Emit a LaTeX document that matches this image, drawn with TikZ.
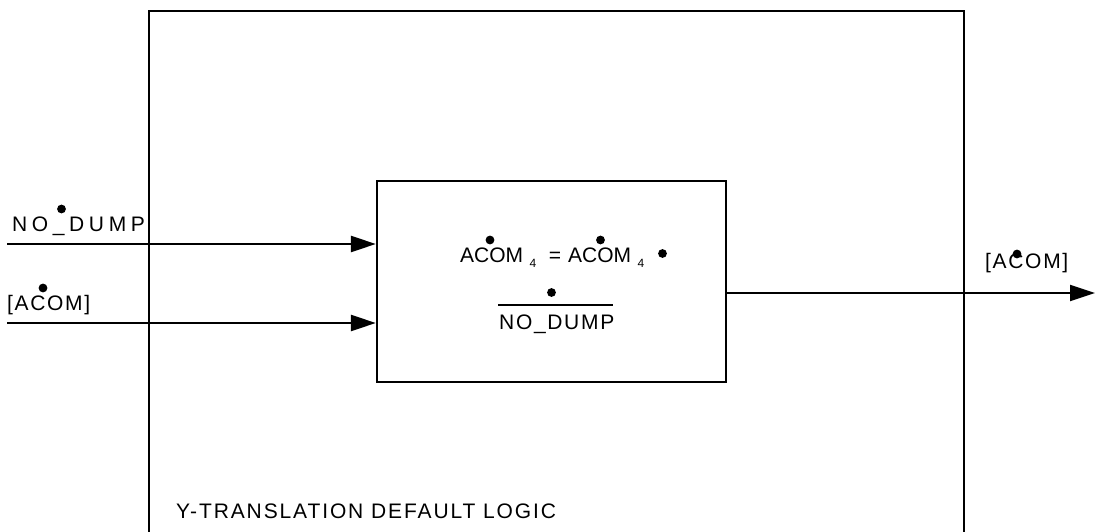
\documentclass[tikz,border=0pt]{standalone}
\usepackage{fontspec}
\setmainfont{Liberation Sans}
\newfontfamily\lsCap[LetterSpace=9]{Liberation Sans}
\newfontfamily\lsMid[LetterSpace=8]{Liberation Sans}
\newfontfamily\lsWide[LetterSpace=22]{Liberation Sans}
\usetikzlibrary{arrows.meta}
\begin{document}
\begin{tikzpicture}[x=1pt,y=-1pt,
  txt/.style={inner sep=0pt,anchor=base west},
  big/.style={font=\fontsize{21}{23}\selectfont},
  wire/.style={line width=2.3pt},
  arr/.style={wire,-{Triangle[length=25pt,width=16pt]}},
  frame/.style={line width=2.3pt},
  blob/.style={circle,fill=black,inner sep=0pt,minimum size=8.8pt}]
\useasboundingbox (0,0) rectangle (1095,532);
% outer frame (open at the bottom)
\draw[frame] (149,540) -- (149,11) -- (964,11) -- (964,540);
% inner box
\node[draw,frame,minimum width=349pt,minimum height=201pt,inner sep=0pt] (box) at (551.5,281.5) {};
% inputs and output
\coordinate (in1) at (7,244);
\coordinate (in2) at (7,323);
\coordinate (out) at (1095,293);
\draw[arr] (in1) -- (in1 -| box.west);
\draw[arr] (in2) -- (in2 -| box.west);
\draw[arr] (box.east |- out) -- (out);
% labels
\node[txt,font=\fontsize{21}{23}\selectfont\lsWide] (lno) at (12,231) {NO\_DUMP};
\node[blob] (dno) at (61.5,209) {};
\node[txt,font=\fontsize{21}{23}\selectfont\lsMid] (lac) at (7,310.5) {[ACOM]};
\node[blob] (dac) at (43,288) {};
\node[txt,font=\fontsize{21}{23}\selectfont\lsMid] (lout) at (985,268) {[ACOM]};
\node[blob] (dout) at (1017,254) {};
% equation in box
\node[txt,big] (eqA) at (460,262) {ACOM};
\node[txt,font=\fontsize{12}{13}\selectfont] (eqs1) at (529.5,267) {4};
\node[inner sep=0pt,anchor=base,big] (eqeq) at (555,262) {=};
\node[txt,big] (eqB) at (568,262) {ACOM};
\node[txt,font=\fontsize{12}{13}\selectfont] (eqs2) at (637.5,267) {4};
\node[blob] (eqdot) at (662.5,253.5) {};
\node[blob] (d1) at (490,240) {};
\node[blob] (d2) at (600.5,240) {};
\node[blob] (d3) at (551.5,292.5) {};
\draw[line width=2.3pt] (498,305) -- (613,305);
\node[txt,font=\fontsize{21}{23}\selectfont\lsMid] (eqno) at (499,329) {NO\_DUMP};
% caption
\node[txt,font=\fontsize{21}{23}\selectfont\lsCap] (cap) at (176,518) {Y-TRANSLATION DEFAULT LOGIC};
\end{tikzpicture}
\end{document}
